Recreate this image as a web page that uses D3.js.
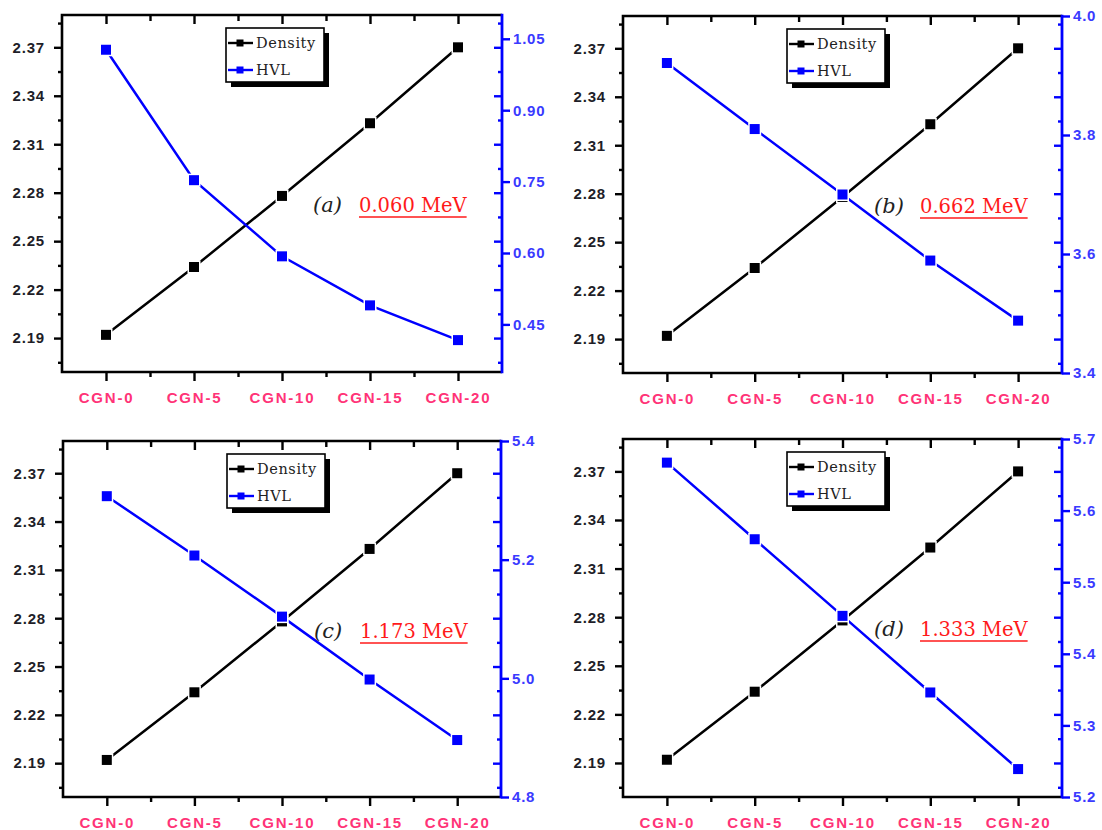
<!DOCTYPE html>
<html><head><meta charset="utf-8">
<script src="https://cdn.jsdelivr.net/npm/d3@7"></script>
<style>
html,body{margin:0;padding:0;background:#fff;}
svg{display:block;}
</style></head><body>
<svg id="chart" width="1102" height="830"></svg>
<script>
// ---------- data ----------
const categories = ["CGN-0", "CGN-5", "CGN-10", "CGN-15", "CGN-20"];
const density = [2.192, 2.234, 2.278, 2.323, 2.370];
const hvlA = [1.027, 0.753, 0.593, 0.490, 0.417];
const hvlB = [3.921, 3.810, 3.700, 3.589, 3.488];
const hvlC = [5.307, 5.207, 5.104, 4.998, 4.896];
const hvlD = [5.667, 5.560, 5.453, 5.346, 5.239];
const densityTicks = [2.19, 2.22, 2.25, 2.28, 2.31, 2.34, 2.37];
const densityMinorTicks = [2.175, 2.205, 2.235, 2.265, 2.295, 2.325, 2.355, 2.385];
const densityDomain = [2.169, 2.390];
const hvlTicksA = [0.45, 0.60, 0.75, 0.90, 1.05];
const hvlTicksB = [3.4, 3.6, 3.8, 4.0];
const hvlTicksC = [4.8, 5.0, 5.2, 5.4];
const hvlTicksD = [5.2, 5.3, 5.4, 5.5, 5.6, 5.7];
const hvlDomainA = [0.35, 1.10];
const hvlDomainB = [3.4, 4.0];
const hvlDomainC = [4.8, 5.4];
const hvlDomainD = [5.2, 5.7];
const seriesNames = ["Density", "HVL"];
const panelLetters = ["(a)", "(b)", "(c)", "(d)"];
const energies = ["0.060 MeV", "0.662 MeV", "1.173 MeV", "1.333 MeV"];

// ---------- layout ----------
const panels = [
  {hvl: hvlA, ticks: hvlTicksA, domain: hvlDomainA, fmt: ".2f", box: [62, 15, 502, 372]},
  {hvl: hvlB, ticks: hvlTicksB, domain: hvlDomainB, fmt: ".1f", box: [623, 16, 1062, 373]},
  {hvl: hvlC, ticks: hvlTicksC, domain: hvlDomainC, fmt: ".1f", box: [63, 441, 501, 797]},
  {hvl: hvlD, ticks: hvlTicksD, domain: hvlDomainD, fmt: ".1f", box: [623, 439, 1062, 797]}
];

const BLUE = "#0000ff";
const svg = d3.select("#chart");

function styleAxis(sel, color, width) {
  sel.select(".domain").remove();
  sel.selectAll(".tick line").attr("stroke", color).attr("stroke-width", width);
}

panels.forEach((p, pi) => {
  const [x0, y0, x1, y1] = p.box;
  const g = svg.append("g");
  const x = d3.scaleLinear().domain([-0.5, categories.length - 0.5]).range([x0, x1]);
  const yL = d3.scaleLinear().domain(densityDomain).range([y1, y0]);
  const yR = d3.scaleLinear().domain(p.domain).range([y1, y0]);
  const catIdx = d3.range(categories.length);
  const catMinor = d3.range(categories.length - 1).map(i => i + 0.5);

  // bottom axis (outward ticks, labels)
  const bx = g.append("g").attr("transform", `translate(0,${y1})`)
    .call(d3.axisBottom(x).tickValues(catIdx).tickSize(9).tickPadding(11)
      .tickFormat(i => categories[i]));
  styleAxis(bx, "#000", 2.4);
  bx.selectAll("text").attr("fill", "#ff3377").attr("font-family", "Liberation Sans, Arial, sans-serif")
    .attr("font-size", 15).attr("font-weight", "bold").attr("letter-spacing", "1.8px");
  const bxm = g.append("g").attr("transform", `translate(0,${y1})`)
    .call(d3.axisBottom(x).tickValues(catMinor).tickSize(5).tickFormat(""));
  styleAxis(bxm, "#000", 2.4);

  // top mirror (inward)
  const tx = g.append("g").attr("transform", `translate(0,${y0})`)
    .call(d3.axisBottom(x).tickValues(catIdx).tickSize(9).tickFormat(""));
  styleAxis(tx, "#000", 2.4);
  const txm = g.append("g").attr("transform", `translate(0,${y0})`)
    .call(d3.axisBottom(x).tickValues(catMinor).tickSize(6).tickFormat(""));
  styleAxis(txm, "#000", 2.4);

  // left axis
  const ly = g.append("g").attr("transform", `translate(${x0},0)`)
    .call(d3.axisLeft(yL).tickValues(densityTicks).tickSize(8).tickPadding(9)
      .tickFormat(d3.format(".2f")));
  styleAxis(ly, "#000", 2.4);
  ly.selectAll("text").attr("fill", "#1e1e28").attr("font-family", "Liberation Sans, Arial, sans-serif")
    .attr("font-size", 15).attr("font-weight", "bold").attr("letter-spacing", "0.8px");
  const lym = g.append("g").attr("transform", `translate(${x0},0)`)
    .call(d3.axisLeft(yL).tickValues(densityMinorTicks).tickSize(4).tickFormat(""));
  styleAxis(lym, "#000", 2.4);

  // right side mirror of left ticks (inward, blue)
  const rmy = g.append("g").attr("transform", `translate(${x1},0)`)
    .call(d3.axisLeft(yL).tickValues(densityTicks).tickSize(8).tickFormat(""));
  styleAxis(rmy, BLUE, 2.4);
  const rmym = g.append("g").attr("transform", `translate(${x1},0)`)
    .call(d3.axisLeft(yL).tickValues(densityMinorTicks).tickSize(4).tickFormat(""));
  styleAxis(rmym, BLUE, 2.4);

  // right HVL axis
  const ry = g.append("g").attr("transform", `translate(${x1},0)`)
    .call(d3.axisRight(yR).tickValues(p.ticks).tickSize(8).tickPadding(3)
      .tickFormat(d3.format(p.fmt)));
  styleAxis(ry, BLUE, 2.4);
  ry.selectAll("text").attr("fill", "#3a3aff").attr("font-family", "Liberation Sans, Arial, sans-serif")
    .attr("font-size", 15).attr("font-weight", "bold").attr("letter-spacing", "0.8px");

  // frame
  g.append("path").attr("d", `M${x1},${y0}H${x0}V${y1}H${x1}`)
    .attr("fill", "none").attr("stroke", "#000").attr("stroke-width", 2.6);
  g.append("line").attr("x1", x1).attr("x2", x1).attr("y1", y0 - 1.3).attr("y2", y1 + 1.3)
    .attr("stroke", BLUE).attr("stroke-width", 2.8);

  // data lines
  const lineL = d3.line().x((d, i) => x(i)).y(d => yL(d));
  const lineR = d3.line().x((d, i) => x(i)).y(d => yR(d));
  g.append("path").attr("d", lineL(density)).attr("fill", "none")
    .attr("stroke", "#000").attr("stroke-width", 2.5);
  g.append("path").attr("d", lineR(p.hvl)).attr("fill", "none")
    .attr("stroke", BLUE).attr("stroke-width", 2.5);

  const ms = 10;
  const halo = (data, yS) => g.append("g").selectAll("rect").data(data).join("rect")
    .attr("x", (d, i) => x(i) - ms / 2 - 1.5).attr("y", d => yS(d) - ms / 2 - 1.5)
    .attr("width", ms + 3).attr("height", ms + 3).attr("fill", "#fff");
  const marks = (data, yS, col) => g.append("g").selectAll("rect").data(data).join("rect")
    .attr("x", (d, i) => x(i) - ms / 2).attr("y", d => yS(d) - ms / 2)
    .attr("width", ms).attr("height", ms).attr("fill", col);
  halo(density, yL);
  marks(density, yL, "#000");
  halo(p.hvl, yR);
  marks(p.hvl, yR, BLUE);

  // legend
  const lx = x0 + 164, ly0 = y0 + 13, lw = 98, lh = 54;
  const lg = g.append("g");
  lg.append("rect").attr("x", lx + 5).attr("y", ly0 + 5).attr("width", lw).attr("height", lh).attr("fill", "#000");
  lg.append("rect").attr("x", lx).attr("y", ly0).attr("width", lw).attr("height", lh)
    .attr("fill", "#fff").attr("stroke", "#000").attr("stroke-width", 1.6);
  [["#000", 15], [BLUE, 42]].forEach(([col, dy], k) => {
    lg.append("line").attr("x1", lx + 2).attr("x2", lx + 27).attr("y1", ly0 + dy).attr("y2", ly0 + dy)
      .attr("stroke", col).attr("stroke-width", 2.4);
    lg.append("rect").attr("x", lx + 10.5).attr("y", ly0 + dy - 3.5).attr("width", 7).attr("height", 7).attr("fill", col);
    lg.append("text").attr("x", lx + 30).attr("y", ly0 + dy + 5).text(seriesNames[k])
      .attr("font-family", "DejaVu Serif, serif").attr("font-size", 14.5).attr("letter-spacing", "0.6px")
      .attr("fill", "#222");
  });

  // annotation
  g.append("text").attr("x", x0 + 251).attr("y", y0 + 197).text(panelLetters[pi])
    .attr("font-family", "DejaVu Serif, serif").attr("font-style", "italic").attr("font-size", 21)
    .attr("fill", "#222");
  const et = g.append("text").attr("x", x0 + 297).attr("y", y0 + 197).text(energies[pi])
    .attr("font-family", "DejaVu Serif, serif").attr("font-size", 19.5).attr("fill", "#ff1a1a");
  const w = et.node().getComputedTextLength();
  g.append("line").attr("x1", x0 + 297).attr("x2", x0 + 297 + w).attr("y1", y0 + 202).attr("y2", y0 + 202)
    .attr("stroke", "#ff1a1a").attr("stroke-width", 1.6);
});
</script>
</body></html>
